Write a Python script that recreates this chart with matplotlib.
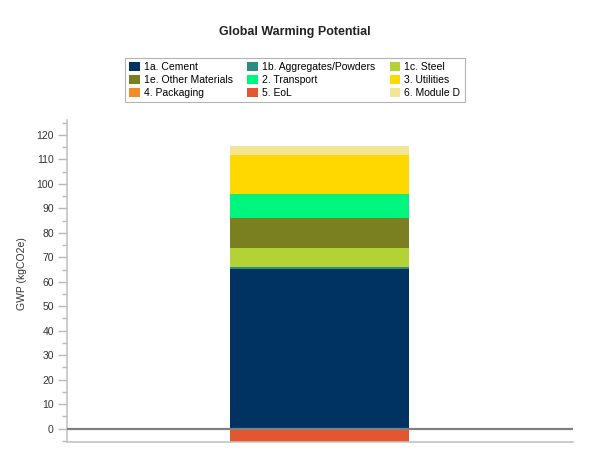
import matplotlib
matplotlib.use("Agg")
import matplotlib.pyplot as plt
from matplotlib.ticker import MultipleLocator
from matplotlib.patches import Patch

plt.rcParams['font.family'] = ['Liberation Sans', 'DejaVu Sans']

categories = ["Total"]
series_names = ["1a. Cement", "1b. Aggregates/Powders", "1c. Steel",
                "1e. Other Materials", "2. Transport", "3. Utilities",
                "4. Packaging", "5. EoL", "6. Module D"]
series_values = [65.3, 0.9, 7.4, 12.3, 9.9, 16.0, 0.0, -5.5, 3.8]
series_colors = ["#003262", "#2A8C82", "#B2D235", "#7A8020", "#00F57F",
                 "#FFD800", "#F28C28", "#E4572E", "#F2E594"]
yticks = list(range(0, 121, 10))

fig = plt.figure(figsize=(5.98, 4.55), dpi=100)
ax = fig.add_axes([0.112, 0.0286, 0.846, 0.707])

pos_base = 0.0
neg_base = 0.0
for name, val, col in zip(series_names, series_values, series_colors):
    if val >= 0:
        ax.bar(0, val, bottom=pos_base, width=1.0, color=col, linewidth=0)
        pos_base += val
    else:
        ax.bar(0, val, bottom=neg_base, width=1.0, color=col, linewidth=0)
        neg_base += val

ax.set_xlim(-1.413, 1.413)
ax.set_ylim(min(series_values), 126)
ax.axhline(0, color="#808080", lw=1.6, zorder=3)

ax.set_yticks(yticks)
ax.yaxis.set_minor_locator(MultipleLocator(5))
ax.tick_params(axis='y', which='major', length=6.5, width=1, color="#B8B8B8",
               labelsize=7.5, labelcolor="#333333", pad=3)
ax.tick_params(axis='y', which='minor', length=3.5, width=1, color="#B8B8B8")
ax.set_xticks([])
for s in ["top", "right"]:
    ax.spines[s].set_visible(False)
for s in ["left", "bottom"]:
    ax.spines[s].set_color("#C4C4C4")
    ax.spines[s].set_linewidth(1.2)

ax.set_ylabel("GWP (kgCO2e)", fontsize=7.5, color="#333333", labelpad=7, y=0.525)

fig.text(0.493, 0.93, "Global Warming Potential", ha="center", va="center",
         fontsize=9, fontweight="bold", color="#222222")

handles = [Patch(facecolor=c, edgecolor="none") for c in series_colors]
order = [0, 3, 6, 1, 4, 7, 2, 5, 8]
leg = fig.legend([handles[i] for i in order], [series_names[i] for i in order],
                 ncol=3, loc="center", bbox_to_anchor=(0.493, 0.824),
                 fontsize=7.5, frameon=True, fancybox=False,
                 handlelength=1.0, handleheight=1.0, handletextpad=0.4,
                 columnspacing=1.4, labelspacing=0.25, borderpad=0.4)
leg.get_frame().set_edgecolor("#A0A0A0")
leg.get_frame().set_linewidth(0.8)

fig.savefig("out.png", dpi=100)
